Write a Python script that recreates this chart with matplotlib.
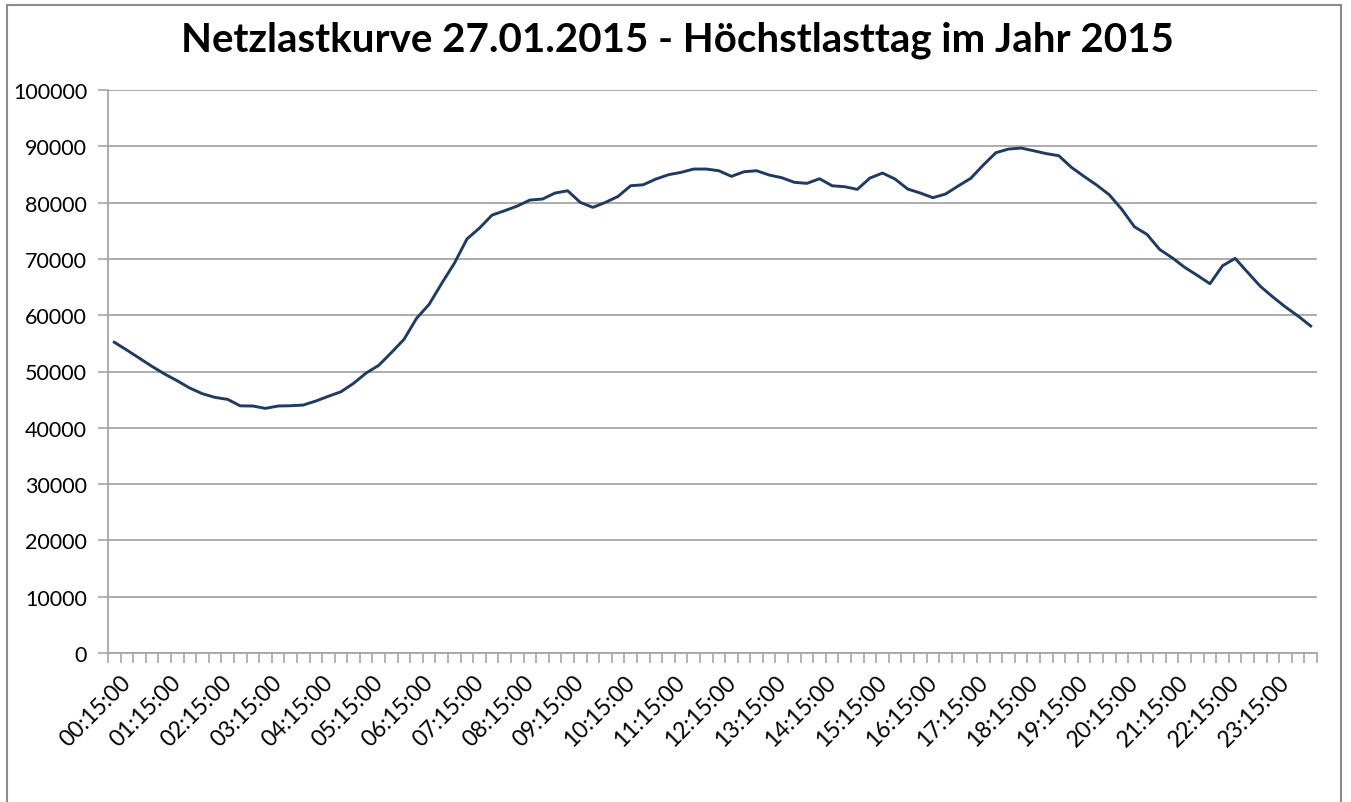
import numpy as np
import matplotlib
matplotlib.use("Agg")
import matplotlib.pyplot as plt
from matplotlib.patches import Rectangle
from matplotlib.transforms import ScaledTranslation

title = "Netzlastkurve 27.01.2015 - Höchstlasttag im Jahr 2015"

times = [f"{(15 * (k + 1)) // 60:02d}:{(15 * (k + 1)) % 60:02d}:00" for k in range(96)]

load = [
    55200, 53800, 52350, 50900, 49550, 48350, 47050, 46050, 45400, 45050,
    43900, 43870, 43450, 43870, 43920, 44040, 44750, 45600, 46400, 47900,
    49730, 51100, 53350, 55700, 59440, 61930, 65660, 69210, 73530, 75480,
    77790, 78560, 79390, 80450, 80630, 81700, 82100, 80040, 79150, 80040,
    81100, 82990, 83170, 84180, 84950, 85370, 85960, 85960, 85660, 84660,
    85480, 85660, 84900, 84420, 83600, 83420, 84240, 82990, 82820, 82350,
    84360, 85250, 84180, 82410, 81700, 80870, 81520, 82940, 84300, 86670,
    88860, 89510, 89690, 89210, 88700, 88330, 86260, 84660, 83120, 81400,
    78800, 75710, 74350, 71690, 70200, 68490, 67070, 65590, 68780, 70090,
    67600, 65130, 63230, 61450, 59850, 58080,
]

yticks = list(range(0, 100001, 10000))

W, H = 1351, 803
fig = plt.figure(figsize=(W / 100, H / 100), dpi=100)
fig.patch.set_facecolor("white")
plt.rcParams['font.family'] = ['Lato', 'DejaVu Sans']

# outer chart border (bottom edge lies below the visible area)
fig.add_artist(Rectangle((7 / W, -0.05), (1341 - 7) / W, 1.05 - 6 / H,
                         transform=fig.transFigure, fill=False,
                         edgecolor="#8c8c8c", linewidth=1.5))

ax = fig.add_axes([108 / W, 1 - 654 / H, (1317 - 108) / W, (654 - 91) / H])
x = np.arange(len(load))
ax.plot(x, load, color="#1f3b63", linewidth=2.1, solid_joinstyle="round")

ax.set_xlim(-0.5, len(load) - 0.5)
ax.set_ylim(0, 100000)
ax.set_yticks(yticks)
ax.set_yticklabels([str(v) for v in yticks], fontsize=15.5)
ax.yaxis.grid(True, color="#a6a6a6", linewidth=1.3)
ax.set_axisbelow(True)

ax.set_xticks(x[::4])
ax.set_xticklabels([times[i] for i in x[::4]], rotation=45, ha="right",
                   va="top", rotation_mode="anchor", fontsize=16.5)
ax.set_xticks(np.arange(-0.5, len(load), 1), minor=True)
ax.tick_params(axis="x", which="major", length=0, pad=13)
ax.tick_params(axis="x", which="minor", length=7, color="#a6a6a6", width=1.2)
ax.tick_params(axis="y", length=7, color="#a6a6a6", width=1.2, pad=8)
offset = ScaledTranslation(6 / 100, 0, fig.dpi_scale_trans)
for lab in ax.get_xticklabels():
    lab.set_transform(lab.get_transform() + offset)

for s in ["top", "right"]:
    ax.spines[s].set_visible(False)
for s in ["left", "bottom"]:
    ax.spines[s].set_color("#a6a6a6")
    ax.spines[s].set_linewidth(1.3)

fig.text(677 / W, 1 - 40 / H, title, ha="center", va="center",
         fontsize=29, fontweight="bold")

fig.savefig("out.png", dpi=100)
